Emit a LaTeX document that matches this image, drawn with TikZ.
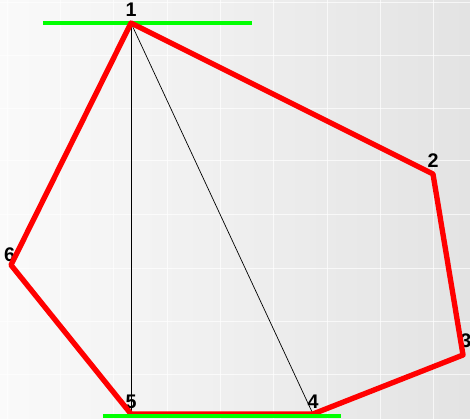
\documentclass[tikz,border=0pt]{standalone}
\usepackage{fontspec}
\setmainfont{Liberation Sans}
\usetikzlibrary{calc}
\tikzset{
  vtx/.style={circle,fill=black,inner sep=0.5pt},
  side/.style={red,line width=3.8pt,line join=round},
  diag/.style={black,line width=0.5pt},
  tang/.style={green,line width=2.2pt},
  gridl/.style={white,line width=0.6pt,opacity=0.7},
  every label/.style={font=\fontsize{14}{16}\selectfont\bfseries,inner sep=0pt},
}
\begin{document}
\begin{tikzpicture}[x=0.025cm,y=-0.025cm]
\useasboundingbox (0,0) rectangle (470,419);
\shade[left color=white!98!black,right color=white!89!black] (0,0) rectangle (470,419);
% faint grid
\foreach \x in {7,60,113,167,220,273,327,380,433}
  \draw[gridl] (\x,0) -- (\x,419);
\foreach \y in {2,55,108,160,214,268,321,374}
  \draw[gridl] (0,\y) -- (470,\y);
% vertices
\node[vtx,label={[label distance=3.5pt]above:1}] (p1) at (131,23) {};
\node[vtx,label={[label distance=3.5pt]above:2}] (p2) at (433,174) {};
\node[vtx,label={[label distance=4pt,xshift=2pt]above:3}] (p3) at (463,355) {};
\node[vtx,label={[label distance=2.5pt]above:4}] (p4) at (313,414) {};
\node[vtx,label={[label distance=2.5pt]above:5}] (p5) at (131,414) {};
\node[vtx,label={[label distance=1pt,xshift=-1pt]above:6}] (p6) at (11,265) {};
% tangent lines
\coordinate (t1a) at (43,23);
\coordinate (t1b) at (252,23);
\coordinate (t2a) at (103,416);
\coordinate (t2b) at (341,416);
\draw[tang] (t1a) -- (t1b);
% diagonals
\draw[diag] (p1.center) -- (p5.center);
\draw[diag] (p1.center) -- (p4.center);
% polygon
\draw[side] (p1.center) -- (p2.center) -- (p3.center) -- (p4.center) -- (p5.center) -- (p6.center) -- cycle;
\draw[tang,line width=2.8pt] (t2a) -- (t2b);
\end{tikzpicture}
\end{document}
